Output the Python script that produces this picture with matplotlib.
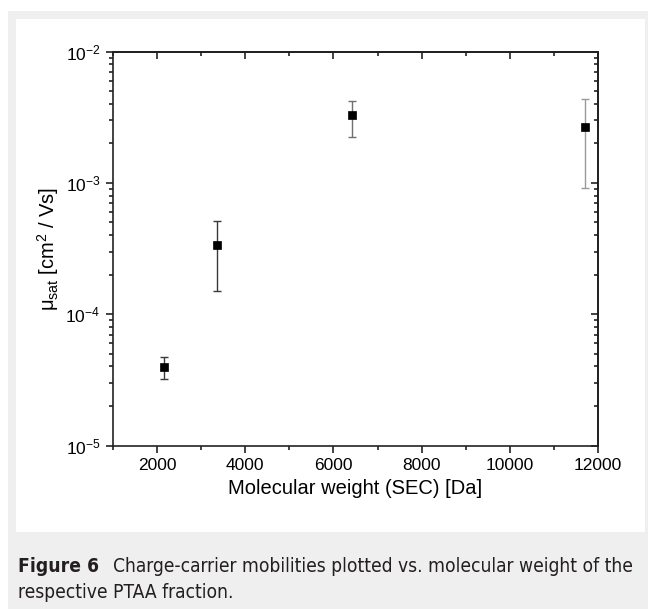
import numpy as np
import matplotlib
matplotlib.use('Agg')
import matplotlib.pyplot as plt
from matplotlib.patches import Rectangle
from matplotlib.ticker import LogLocator, MultipleLocator, NullFormatter

plt.rcParams['font.family'] = ['Liberation Sans', 'DejaVu Sans']
plt.rcParams['mathtext.fontset'] = 'custom'
plt.rcParams['mathtext.rm'] = 'Liberation Sans'
plt.rcParams['mathtext.it'] = 'Liberation Sans:italic'
plt.rcParams['mathtext.bf'] = 'Liberation Sans:bold'
plt.rcParams['axes.unicode_minus'] = False

# data
mw = [2150, 3370, 6420, 11700]                 # molecular weight [Da]
mu = [3.97e-5, 3.36e-4, 3.29e-3, 2.65e-3]      # mobility
mu_lo = [3.22e-5, 1.51e-4, 2.25e-3, 9.2e-4]    # lower end of error bar
mu_hi = [4.73e-5, 5.15e-4, 4.23e-3, 4.38e-3]   # upper end of error bar
bar_colors = ['#3a3a3a', '#3a3a3a', '#707070', '#9a9a9a']

W, H = 648, 609
fig = plt.figure(figsize=(W/100, H/100), dpi=100, facecolor='white')

# gray frame and white panel
fig.add_artist(Rectangle((8/W, 0), 1, (H-11)/H, transform=fig.transFigure,
                         facecolor='#efefef', edgecolor='none', zorder=-10))
fig.add_artist(Rectangle((16/W, 77/H), (645-16)/W, (532-19)/H, transform=fig.transFigure,
                         facecolor='white', edgecolor='none', zorder=-9))

left, right, top, bottom = 113, 598, 51.7, 445.5
ax = fig.add_axes([left/W, (H-bottom)/H, (right-left)/W, (bottom-top)/H])
ax.patch.set_alpha(0)

for x, y, lo, hi, c in zip(mw, mu, mu_lo, mu_hi, bar_colors):
    ax.errorbar([x], [y], yerr=[[y-lo], [hi-y]], fmt='none', ecolor=c,
                elinewidth=1.0, capsize=3, capthick=1.0, zorder=2)
ax.plot(mw, mu, 's', color='black', markersize=6, markeredgewidth=0.5,
        linestyle='none', zorder=3)

ax.set_yscale('log')
ax.set_xlim(1000, 12000)
ax.set_ylim(1e-5, 1e-2)
ax.xaxis.set_major_locator(MultipleLocator(2000))
ax.xaxis.set_minor_locator(MultipleLocator(1000))
ax.yaxis.set_major_locator(LogLocator(base=10, numticks=10))
ax.yaxis.set_minor_locator(LogLocator(base=10, subs=np.arange(2, 10), numticks=10))
ax.yaxis.set_minor_formatter(NullFormatter())

for sp in ax.spines.values():
    sp.set_linewidth(1.2)
    sp.set_color('#222222')

ax.tick_params(which='both', direction='out', top=False, right=False,
               labelsize=12.5, width=1.2, color='#222222', pad=4)
ax.tick_params(which='major', length=5)
ax.tick_params(which='minor', length=3)

# mirrored ticks on top and right pointing inward
axt = ax.secondary_xaxis('top')
axt.xaxis.set_major_locator(MultipleLocator(2000))
axt.xaxis.set_minor_locator(MultipleLocator(1000))
axt.tick_params(which='both', direction='in', labeltop=False, width=1.2, color='#222222')
axt.tick_params(which='major', length=5)
axt.tick_params(which='minor', length=3)
axt.spines['top'].set_linewidth(1.2)

axr = ax.secondary_yaxis('right')
axr.yaxis.set_major_locator(LogLocator(base=10, numticks=10))
axr.yaxis.set_minor_locator(LogLocator(base=10, subs=np.arange(2, 10), numticks=10))
axr.yaxis.set_minor_formatter(NullFormatter())
axr.tick_params(which='both', direction='in', labelright=False, width=1.2, color='#222222')
axr.tick_params(which='major', length=5)
axr.tick_params(which='minor', length=3)
axr.spines['right'].set_linewidth(1.2)

ax.set_xlabel('Molecular weight (SEC) [Da]', fontsize=14.5, labelpad=4)
ax.set_ylabel(r'$\mathregular{\mu_{sat}}$ [cm$^\mathregular{2}$ / Vs]', fontsize=14.5, labelpad=3)

# caption
cap_font = dict(family='DejaVu Sans', stretch='condensed', fontsize=13.8, color='#231f20')
fig.text(18/W, 1 - 566/H, 'Figure 6', fontweight='bold', va='center', **cap_font)
fig.text(113/W, 1 - 566/H, 'Charge-carrier mobilities plotted vs. molecular weight of the',
         va='center', **cap_font)
fig.text(18/W, 1 - 592/H, 'respective PTAA fraction.', va='center', **cap_font)

fig.savefig('out.png', dpi=100, facecolor='white')
